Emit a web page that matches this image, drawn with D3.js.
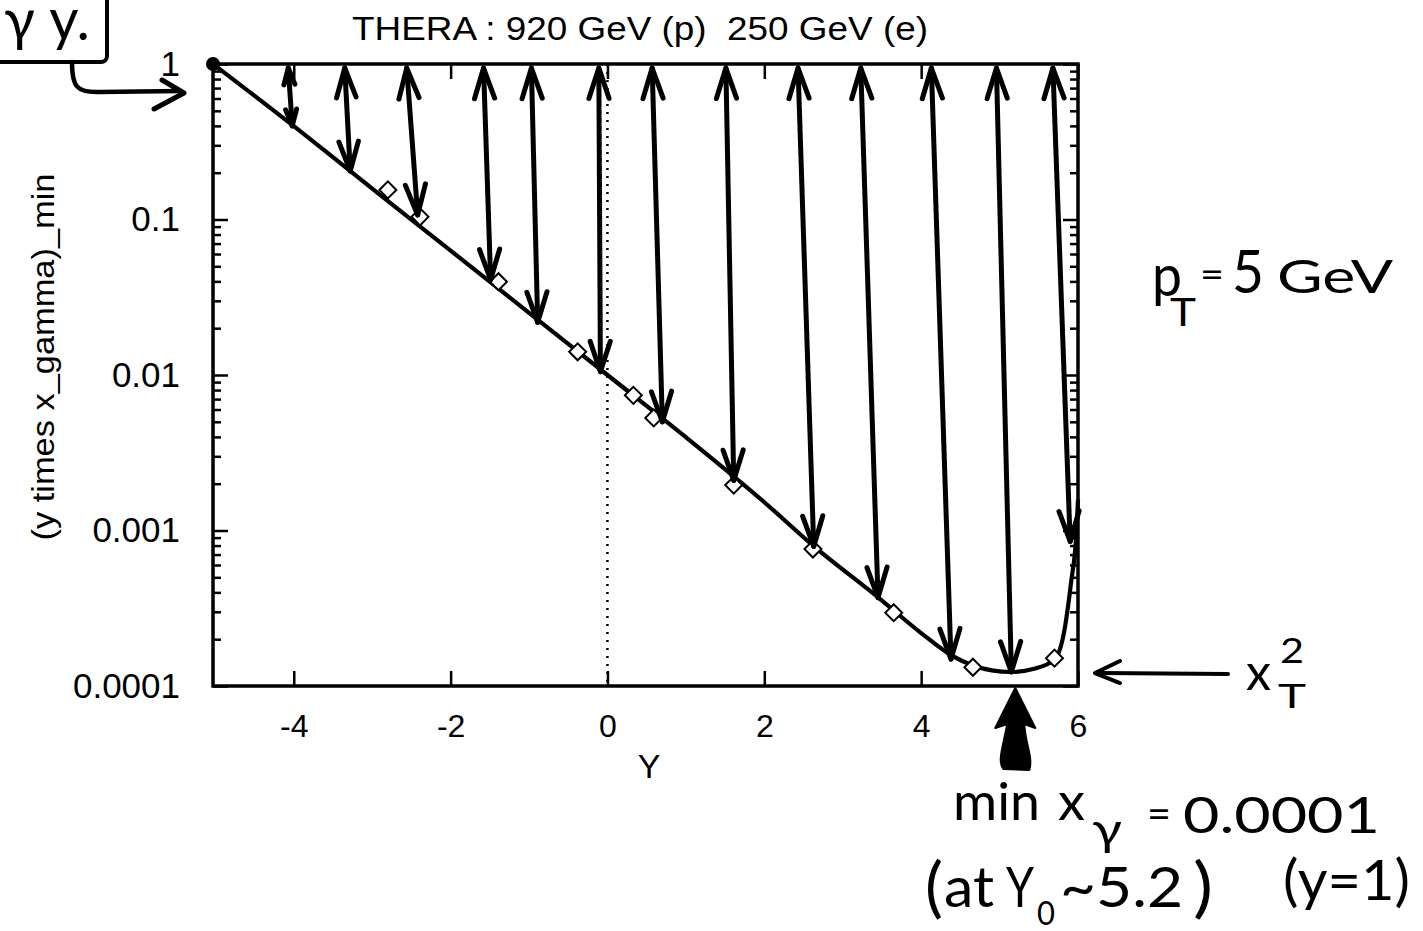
<!DOCTYPE html>
<html>
<head>
<meta charset="utf-8">
<script src="https://cdn.jsdelivr.net/npm/d3@7"></script>
<style>
  body { margin: 0; background: #fff; }
  svg text { font-family: "Liberation Sans", Arial, sans-serif; fill: #000; }
  .hand { font-family: "Lato", "DejaVu Sans", sans-serif; }
</style>
</head>
<body>
<svg width="1423" height="931"></svg>
<script>
// curve: (y times x_gamma)_min vs rapidity Y
const rapidity = [-5.03, -4, -3, -2, -1, 0, 1, 2, 2.63, 3.45, 4.0, 4.38, 4.67, 4.9, 5.15, 5.44, 5.7, 5.82, 5.91, 5.98, 6.0];
const xgMin = [1.0, 0.398, 0.158, 0.0631, 0.0251, 0.01, 0.00398, 0.00152, 0.000794, 0.000372, 0.000219, 0.000158, 0.000135, 0.000126, 0.000123, 0.000129, 0.000148, 0.000219, 0.000457, 0.000977, 0.00158];

// open diamond markers along the curve
const markY = [-2.80, -2.39, -1.39, -0.38, 0.33, 0.59, 1.61, 2.62, 3.65, 4.66, 5.70];
const markV = [0.155, 0.104, 0.0398, 0.0141, 0.0074, 0.0053, 0.00196, 0.00076, 0.000296, 0.000132, 0.000151];

// hand-drawn arrows: top rapidity (at y=1), bottom rapidity and value on the curve
const arrowTop = [-4.07, -3.35, -2.56, -1.58, -0.97, -0.11, 0.57, 1.51, 2.43, 3.23, 4.13, 4.96, 5.68];
const arrowBot = [-4.02, -3.28, -2.42, -1.49, -0.89, -0.09, 0.70, 1.61, 2.63, 3.45, 4.38, 5.15, 5.90];
const arrowBotV = [0.40, 0.205, 0.107, 0.041, 0.0218, 0.0105, 0.0050, 0.0021, 0.00079, 0.00037, 0.000149, 0.000123, 0.00085];

const xTicks = [-4, -2, 0, 2, 4, 6];
const yTicks = [1, 0.1, 0.01, 0.001, 0.0001];
const yTickLabels = ["1", "0.1", "0.01", "0.001", "0.0001"];
const yMinor = [];
[0.0001, 0.001, 0.01, 0.1].forEach(d => { for (let k = 2; k <= 9; k++) yMinor.push(d * k); });

const minRapidity = 5.2;
const minValue = 0.000123;

const svg = d3.select("svg");
const margin = {top: 64, right: 345, bottom: 245, left: 213};
const innerWidth = 1423 - margin.left - margin.right;
const innerHeight = 931 - margin.top - margin.bottom;

const g = svg.append("g").attr("transform", `translate(${margin.left},${margin.top})`);

const xScale = d3.scaleLinear().domain([-5.03, 6]).range([0, innerWidth]);
const yScale = d3.scaleLog().domain([0.0001, 1]).range([innerHeight, 0]);

// dotted line at Y = 0
g.append("line")
  .attr("x1", xScale(0)).attr("x2", xScale(0))
  .attr("y1", yScale(1)).attr("y2", yScale(0.0001))
  .attr("stroke", "#000").attr("stroke-width", 2.5)
  .attr("stroke-dasharray", "2,6");

// axes (ticks pointing inward)
const xAxis = d3.axisBottom(xScale).tickValues(xTicks).tickFormat(d => String(d))
  .tickSizeInner(-15).tickSizeOuter(0).tickPadding(28);
const xAxisG = g.append("g").attr("transform", `translate(0,${innerHeight})`).call(xAxis);
g.append("g").call(d3.axisTop(xScale).tickValues(xTicks).tickFormat("").tickSizeInner(-15).tickSizeOuter(0));

const yAxis = d3.axisLeft(yScale).tickValues(yTicks)
  .tickFormat((d, i) => yTickLabels[i]).tickSizeInner(-15).tickSizeOuter(0).tickPadding(33);
const yAxisG = g.append("g").call(yAxis);
g.append("g").call(d3.axisLeft(yScale).tickValues(yMinor).tickFormat("").tickSizeInner(-8).tickSizeOuter(0));
g.append("g").attr("transform", `translate(${innerWidth},0)`)
  .call(d3.axisRight(yScale).tickValues(yTicks).tickFormat("").tickSizeInner(-15).tickSizeOuter(0));
g.append("g").attr("transform", `translate(${innerWidth},0)`)
  .call(d3.axisRight(yScale).tickValues(yMinor).tickFormat("").tickSizeInner(-8).tickSizeOuter(0));

g.selectAll(".domain").remove();
g.selectAll(".tick line").attr("stroke", "#000").attr("stroke-width", 2.5);
xAxisG.selectAll("text").style("font-size", "32px");
yAxisG.selectAll("text").style("font-size", "35px");

// frame
g.append("rect")
  .attr("width", innerWidth).attr("height", innerHeight)
  .attr("fill", "none").attr("stroke", "#000").attr("stroke-width", 3.5);

// axis titles
g.append("text")
  .attr("x", xScale(0.53)).attr("y", innerHeight + 92)
  .attr("text-anchor", "middle").style("font-size", "34px")
  .text("Y");

svg.append("text")
  .attr("transform", "translate(54,357) rotate(-90)")
  .attr("text-anchor", "middle").style("font-size", "31px")
  .attr("textLength", 367).attr("lengthAdjust", "spacingAndGlyphs")
  .text("(y times x_gamma)_min");

// title
svg.append("text")
  .attr("x", 352).attr("y", 40)
  .style("font-size", "34px").style("white-space", "pre")
  .attr("textLength", 576).attr("lengthAdjust", "spacingAndGlyphs")
  .text("THERA : 920 GeV (p)  250 GeV (e)");

// curve
const line = d3.line()
  .x(d => xScale(d[0]))
  .y(d => yScale(d[1]))
  .curve(d3.curveMonotoneX);

g.append("path")
  .datum(rapidity.map((r, i) => [r, xgMin[i]]))
  .attr("d", line)
  .attr("fill", "none").attr("stroke", "#000").attr("stroke-width", 4.2);

g.append("circle")
  .attr("cx", xScale(rapidity[0])).attr("cy", yScale(xgMin[0]))
  .attr("r", 7).attr("fill", "#000");

// diamonds
g.selectAll(".mark")
  .data(markY.map((r, i) => [r, markV[i]]))
  .enter().append("rect")
  .attr("class", "mark")
  .attr("x", -6).attr("y", -6).attr("width", 12).attr("height", 12)
  .attr("transform", d => `translate(${xScale(d[0])},${yScale(d[1])}) rotate(45)`)
  .attr("fill", "#fff").attr("stroke", "#000").attr("stroke-width", 2);

// arrows
const arrowData = arrowTop.map((t, i) => ({
  x1: xScale(t), y1: yScale(1) + 4,
  x2: xScale(arrowBot[i]), y2: yScale(arrowBotV[i])
}));

function headPath(tipX, tipY, fromX, fromY, len, spread) {
  const a = Math.atan2(tipY - fromY, tipX - fromX);
  const p1 = [tipX - len * Math.cos(a - spread), tipY - len * Math.sin(a - spread)];
  const p2 = [tipX - len * Math.cos(a + spread), tipY - len * Math.sin(a + spread)];
  return `M${p1[0]},${p1[1]}L${tipX},${tipY}L${p2[0]},${p2[1]}`;
}
const headLen = d => Math.min(32, 0.3 * Math.hypot(d.x2 - d.x1, d.y2 - d.y1));

const arrows = g.selectAll(".arrow").data(arrowData).enter().append("g").attr("class", "arrow");
arrows.append("path")
  .attr("d", d => `M${d.x1},${d.y1}L${d.x2},${d.y2}`)
  .attr("fill", "none").attr("stroke", "#000").attr("stroke-width", 5).attr("stroke-linecap", "round");
arrows.append("path")
  .attr("d", d => headPath(d.x1, d.y1, d.x2, d.y2, headLen(d), 0.32))
  .attr("fill", "none").attr("stroke", "#000").attr("stroke-width", 5)
  .attr("stroke-linecap", "round").attr("stroke-linejoin", "round");
arrows.append("path")
  .attr("d", d => headPath(d.x2, d.y2, d.x1, d.y1, headLen(d), 0.32))
  .attr("fill", "none").attr("stroke", "#000").attr("stroke-width", 5)
  .attr("stroke-linecap", "round").attr("stroke-linejoin", "round");

// ---- handwritten annotations ----
const hand = svg.append("g").attr("class", "hand-notes");

function handText(txt, x, y, size, len) {
  const t = hand.append("text").attr("class", "hand")
    .attr("x", x).attr("y", y).style("font-size", size + "px").text(txt);
  if (len) t.attr("textLength", len).attr("lengthAdjust", "spacingAndGlyphs");
  return t;
}

// boxed "γ y" with arrow to the y = 1 tick
hand.append("rect")
  .attr("x", -10).attr("y", -10).attr("width", 117).attr("height", 72).attr("rx", 6)
  .attr("fill", "none").attr("stroke", "#000").attr("stroke-width", 4);
handText("γ y.", 4, 40, 58, 86);
const y1px = margin.top + yScale(1);
hand.append("path")
  .attr("d", `M72,62 C72,86 76,93 100,${y1px + 28} L180,${y1px + 27}`)
  .attr("fill", "none").attr("stroke", "#000").attr("stroke-width", 4.5).attr("stroke-linecap", "round");
hand.append("path")
  .attr("d", `M162,${y1px + 16} L184,${y1px + 29} L154,${y1px + 45}`)
  .attr("fill", "none").attr("stroke", "#000").attr("stroke-width", 5)
  .attr("stroke-linecap", "round").attr("stroke-linejoin", "round");

// p_T = 5 GeV
handText("p", 1152, 296, 58, 30);
handText("T", 1170, 326, 38, 26);
handText("=", 1200, 287, 36, 24);
handText("5", 1232, 293, 60, 32);
handText("GeV", 1277, 293, 46, 116);

// arrow to the minimum: x_T^2
const minPx = margin.top + yScale(minValue);
const rightPx = margin.left + innerWidth;
hand.append("path")
  .attr("d", `M${rightPx + 22},${minPx + 1} L${rightPx + 150},${minPx + 2}`)
  .attr("fill", "none").attr("stroke", "#000").attr("stroke-width", 4).attr("stroke-linecap", "round");
hand.append("path")
  .attr("d", `M${rightPx + 42},${minPx - 11} L${rightPx + 17},${minPx + 1} L${rightPx + 42},${minPx + 11}`)
  .attr("fill", "none").attr("stroke", "#000").attr("stroke-width", 4)
  .attr("stroke-linecap", "round").attr("stroke-linejoin", "round");
handText("x", 1246, 690, 50, 25);
handText("2", 1280, 663, 34, 24);
handText("T", 1278, 708, 32, 28);

// big arrow under the x axis at Y0
const cx = margin.left + xScale(minRapidity);
const by = margin.top + innerHeight;
hand.append("path")
  .attr("d", `M${cx},${by + 2} L${cx - 20},${by + 42} L${cx - 8},${by + 38}
              C${cx - 12},${by + 60} ${cx - 18},${by + 75} ${cx - 12},${by + 83}
              L${cx + 14},${by + 84} C${cx + 18},${by + 72} ${cx + 10},${by + 58} ${cx + 9},${by + 38}
              L${cx + 20},${by + 42} Z`)
  .attr("fill", "#000").attr("stroke", "#000").attr("stroke-width", 2).attr("stroke-linejoin", "round");

// min x_γ = 0.0001 (at Y0 ~ 5.2) (y=1)
handText("min", 953, 820, 52, 87);
handText("x", 1058, 820, 52, 27);
handText("γ", 1092, 845, 44, 30);
handText("=", 1147, 828, 40, 24);
handText("0.0001", 1183, 833, 50, 197);
handText("(", 925, 910, 66, 18);
handText("at", 944, 907, 56, 50);
handText("Y", 1006, 907, 56, 28);
handText("0", 1037, 925, 32, 18);
handText("~5.2", 1060, 907, 56, 123);
handText(")", 1193, 910, 66, 20);
handText("(y=1)", 1283, 900, 56, 127);
</script>
</body>
</html>
